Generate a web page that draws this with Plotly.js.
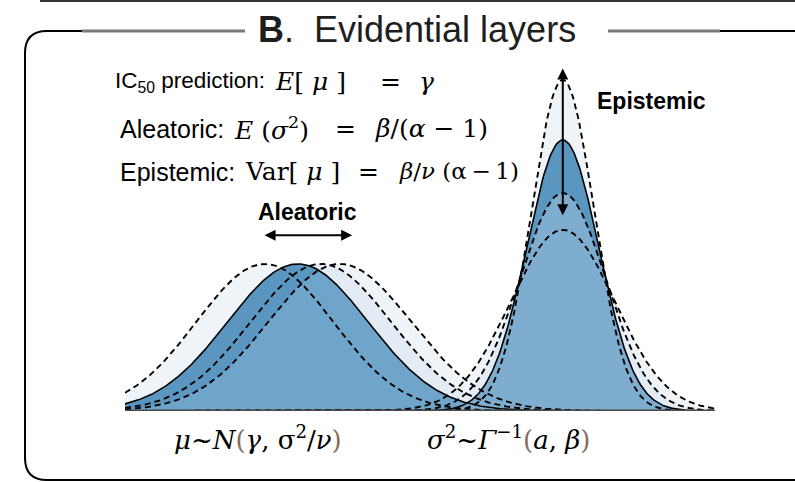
<!DOCTYPE html>
<html>
<head>
<meta charset="utf-8">
<script src="https://cdn.plot.ly/plotly-3.0.1.min.js"></script>
<style>
  html, body { margin: 0; padding: 0; background: #ffffff; }
  #chart { width: 795px; height: 482px; }
</style>
</head>
<body>
<div id="chart"></div>
<script>
// ---- Normal layer: mu ~ N(gamma, sigma^2/nu) ----
// index 0 is the reference (solid) curve, the rest are the shifted dashed alternatives
const normalNames   = ['mean', 'shiftLeft', 'shiftRight1', 'shiftRight2'];
const normalCenters = [2.93, 2.37, 3.32, 3.64];
const normalWidths  = [1.19, 1.16, 1.19, 1.21];
const normalPeaks   = [0.419, 0.419, 0.419, 0.419];

// ---- Inverse-gamma layer: sigma^2 ~ Gamma^-1(a, beta) ----
// index 0 is the reference (solid) curve; dashed ones are sharper / flatter variants
const invGammaNames   = ['mean', 'sharp', 'flat1', 'flat2'];
const invGammaCenters = [7.42, 7.42, 7.42, 7.42];
const invGammaWidths  = [0.61, 0.53, 0.73, 0.88];
const invGammaPeaks   = [0.772, 0.943, 0.621, 0.516];

// ---- Text ----
const panelTitle = '<b>B</b>.  Evidential layers';
const rowLabels  = ['IC<sub>50</sub> prediction:', 'Aleatoric:', 'Epistemic:'];
// each formula row: left-hand side, equals sign, right-hand side
const rowMathLhs = ['<i>E</i>[ <i>μ</i> ]', '<i>E</i> (<i>σ</i><sup>2</sup>)', 'Var[ <i>μ</i> ]'];
const rowMathRhs = ['<i>γ</i>', '<i>β</i>/(<i>α</i> − 1)', '<i>β</i>/<i>ν</i> (α&#8201;−&#8201;1)'];
const arrowLabels = ['Aleatoric', 'Epistemic'];
const BROWN = '#8a6a63';
const paren = s => '<span style="color:' + BROWN + '">' + s + '</span>';
const bottomLabels = [
  '<i>μ</i>~<i>N</i>' + paren('(') + '<i>γ</i>, σ<sup>2</sup>/<i>ν</i>' + paren(')'),
  '<i>σ</i><sup>2</sup>~<i>Γ</i><sup>−1</sup>' + paren('(') + '<i>a</i>, <i>β</i>' + paren(')')
];

// ---- Geometry of the plotting area (pixels) ----
const W = 795, H = 482;
const PL = 125, PR = 715, PT = 60, PB = 411;
const fx = X => (X - PL) / (PR - PL);   // pixel x -> paper x
const fy = Y => (PB - Y) / (PB - PT);   // pixel y -> paper y

// sample grid along the x axis
const xs = [];
for (let i = 0; i <= 500; i++) xs.push(i * 0.02);

function bell(c, s, h) {
  return xs.map(x => h * Math.exp(-((x - c) * (x - c)) / (2 * s * s)));
}
const normalCurves   = normalCenters.map((c, i) => bell(c, normalWidths[i], normalPeaks[i]));
const invGammaCurves = invGammaCenters.map((c, i) => bell(c, invGammaWidths[i], invGammaPeaks[i]));
const minOf = (a, b) => a.map((v, i) => Math.min(v, b[i]));

const LIGHT  = '#eff4f9';
const LIGHT2 = '#e3ecf4';
const DARK   = '#5b96c1';
const MED_L  = '#6fa5cb';
const MED_R  = '#7eadcf';

function area(y, color) {
  return { x: xs, y: y, type: 'scatter', mode: 'lines', fill: 'tozeroy',
           fillcolor: color, line: { width: 0 }, hoverinfo: 'skip' };
}
function outline(y, dashed) {
  return { x: xs, y: y, type: 'scatter', mode: 'lines', hoverinfo: 'skip',
           line: { color: '#000000', width: dashed ? 1.9 : 1.6, dash: dashed ? '6px,4px' : 'solid' } };
}

const traces = [
  // light envelopes
  area(normalCurves[1], LIGHT),
  area(normalCurves[3], LIGHT),
  area(invGammaCurves[3], LIGHT),
  area(invGammaCurves[1], LIGHT),
  area(normalCurves[2], LIGHT2),
  area(invGammaCurves[2], LIGHT2),
  // reference densities
  area(normalCurves[0], DARK),
  area(invGammaCurves[0], DARK),
  // overlap cores
  area(minOf(normalCurves[0], normalCurves[3]), MED_L),
  area(minOf(invGammaCurves[0], invGammaCurves[2]), MED_R)
];
[1, 2, 3].forEach(i => traces.push(outline(normalCurves[i], true)));
[1, 2, 3].forEach(i => traces.push(outline(invGammaCurves[i], true)));
traces.push(outline(normalCurves[0], false));
traces.push(outline(invGammaCurves[0], false));

const SANS = 'Liberation Sans, Arial, sans-serif';
const SERIF = 'DejaVu Serif, serif';

function txt(X, Y, text, size, family, anchor) {
  return { xref: 'paper', yref: 'paper', x: fx(X), y: fy(Y), text: text, showarrow: false,
           xanchor: anchor || 'left', yanchor: 'middle',
           font: { family: family, size: size, color: '#000000' } };
}
function dblArrow(x0, y0, x1, y1) {
  return { xref: 'x', yref: 'y', axref: 'x', ayref: 'y', x: x1, y: y1, ax: x0, ay: y0,
           text: '', showarrow: true, arrowside: 'end+start', arrowhead: 2,
           arrowsize: 1.1, arrowwidth: 2, arrowcolor: '#000000', standoff: 0, startstandoff: 0 };
}

const rowY = [82, 129, 172];
const rowLabelX = [113, 118, 118];
const rowLabelSize = [22.5, 25, 25];
const rowLhsX = [273, 232, 243];
const rowEqX = [390, 345, 368];
const rowRhsX = [417, 373, 397];
const rowRhsSize = [25, 25, 23];

const annotations = [
  { xref: 'paper', yref: 'paper', x: fx(417), y: fy(29), text: panelTitle, showarrow: false,
    xanchor: 'center', yanchor: 'middle', font: { family: SANS, size: 36, color: '#1e1e1e' } }
];
rowLabels.forEach((t, i) => annotations.push(txt(rowLabelX[i], rowY[i], t, rowLabelSize[i], SANS)));
rowMathLhs.forEach((t, i) => {
  annotations.push(txt(rowLhsX[i], rowY[i] - 1, t, 25, SERIF));
  annotations.push(txt(rowEqX[i], rowY[i] - 1, '=', 25, SERIF, 'center'));
  annotations.push(txt(rowRhsX[i], rowY[i] - 1, rowMathRhs[i], rowRhsSize[i], SERIF));
});
annotations.push(txt(307, 212, '<b>' + arrowLabels[0] + '</b>', 23, SANS, 'center'));
annotations.push(txt(595, 101, '<b>' + arrowLabels[1] + '</b>', 23, SANS, 'left'));
annotations.push(txt(258, 438, bottomLabels[0], 26, SERIF, 'center'));
annotations.push(txt(508, 438, bottomLabels[1], 26, SERIF, 'center'));
// aleatoric spread arrow (horizontal) and epistemic arrow (vertical)
annotations.push(dblArrow(2.34, 0.501, 3.85, 0.501));
annotations.push(dblArrow(invGammaCenters[0], 0.98, invGammaCenters[0], 0.558));

const frameR = 22;
const framePath =
  'M ' + fx(82) + ',' + fy(31) +
  ' L ' + fx(25 + frameR) + ',' + fy(31) +
  ' Q ' + fx(25) + ',' + fy(31) + ' ' + fx(25) + ',' + fy(31 + frameR) +
  ' L ' + fx(25) + ',' + fy(480 - frameR) +
  ' Q ' + fx(25) + ',' + fy(480) + ' ' + fx(25 + frameR) + ',' + fy(480) +
  ' L ' + fx(800) + ',' + fy(480);

function hline(X0, X1, Y, color, width) {
  return { type: 'line', xref: 'paper', yref: 'paper', x0: fx(X0), x1: fx(X1), y0: fy(Y), y1: fy(Y),
           line: { color: color, width: width } };
}

const shapes = [
  hline(40, 800, 1, '#333333', 2),
  { type: 'path', xref: 'paper', yref: 'paper', path: framePath, line: { color: '#000000', width: 2 } },
  hline(82, 245, 31, '#7a7a7a', 3),
  hline(608, 720, 31, '#7a7a7a', 3),
  hline(720, 800, 31, '#000000', 2),
  { type: 'line', xref: 'x', yref: 'y', x0: 0, x1: 10, y0: 0, y1: 0, line: { color: '#4a4a4a', width: 3 } }
];

const layout = {
  width: W, height: H,
  margin: { l: PL, r: W - PR, t: PT, b: H - PB, pad: 0 },
  paper_bgcolor: '#ffffff', plot_bgcolor: 'rgba(0,0,0,0)',
  showlegend: false, hovermode: false,
  xaxis: { range: [0, 10], visible: false, fixedrange: true },
  yaxis: { range: [0, 1], visible: false, fixedrange: true },
  annotations: annotations,
  shapes: shapes
};

Plotly.newPlot('chart', traces, layout, { staticPlot: true, displayModeBar: false });
</script>
</body>
</html>
